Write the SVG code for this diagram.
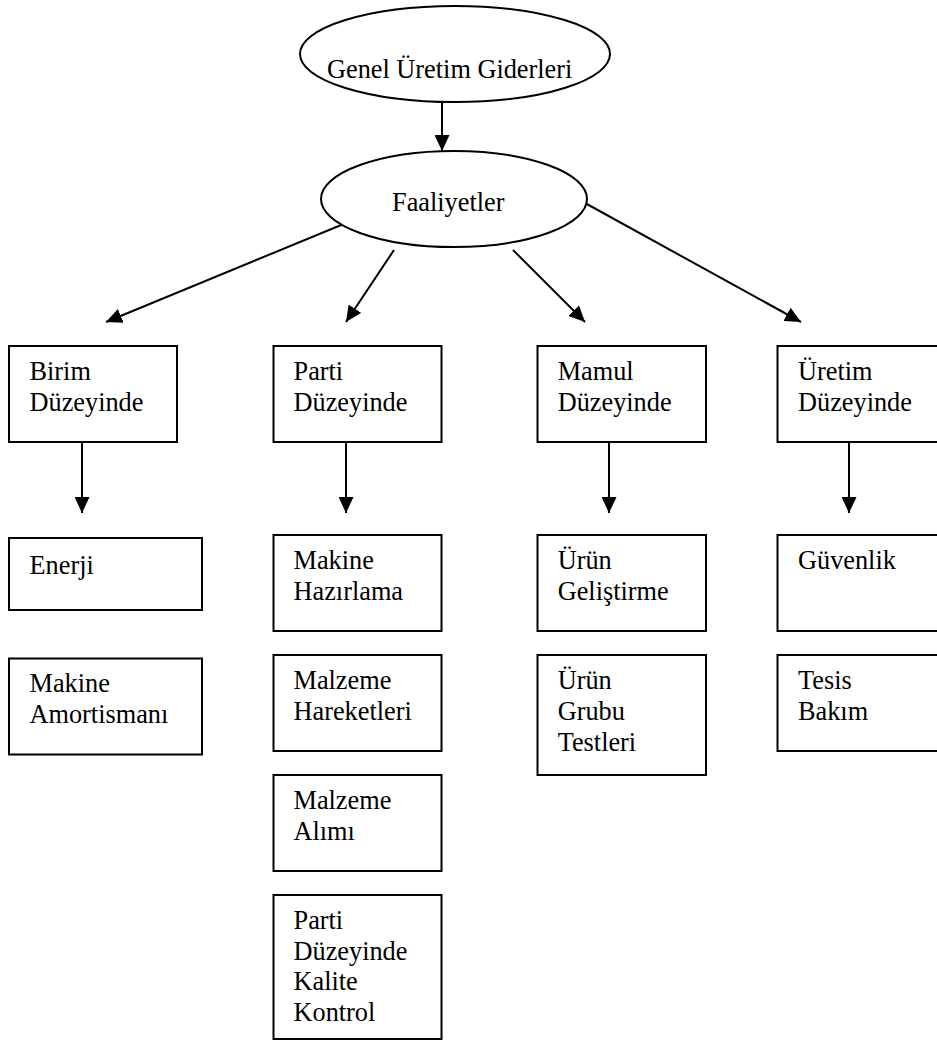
<svg xmlns="http://www.w3.org/2000/svg" width="937" height="1041" viewBox="0 0 937 1041">
  <style>
    .box { fill: #ffffff; stroke: #000000; stroke-width: 2; }
    .oval { fill: #ffffff; stroke: #000000; stroke-width: 2; }
    .lbl { font-family: "Liberation Serif", "Times New Roman", serif; font-size: 26.3px; fill: #000000; }
    .edge { stroke: #000000; stroke-width: 2; fill: none; marker-end: url(#head); }
  </style>
  <defs>
    <marker id="head" viewBox="0 0 16 15" refX="16" refY="7.5" markerWidth="16" markerHeight="15" markerUnits="userSpaceOnUse" orient="auto">
      <path d="M0,0 L16,7.5 L0,15 z" fill="#000000"/>
    </marker>
  </defs>
  <rect width="937" height="1041" fill="#ffffff"/>

  <g id="connectors">
    <line class="edge" x1="442" y1="102" x2="442" y2="151"/>
    <line class="edge" x1="346" y1="223" x2="106" y2="322"/>
    <line class="edge" x1="394" y1="250" x2="346" y2="322"/>
    <line class="edge" x1="513" y1="250" x2="585" y2="322"/>
    <line class="edge" x1="585" y1="203" x2="801" y2="322"/>
    <line class="edge" x1="82" y1="442" x2="82" y2="513"/>
    <line class="edge" x1="346" y1="442" x2="346" y2="513"/>
    <line class="edge" x1="609" y1="442" x2="609" y2="513"/>
    <line class="edge" x1="849" y1="442" x2="849" y2="513"/>
  </g>

  <g id="genel-uretim-giderleri">
    <ellipse class="oval" cx="455" cy="54" rx="155" ry="48"/>
    <text class="lbl" x="327" y="78">Genel Üretim Giderleri</text>
  </g>
  <g id="faaliyetler">
    <ellipse class="oval" cx="454" cy="199" rx="133" ry="48"/>
    <text class="lbl" x="392" y="211">Faaliyetler</text>
  </g>

  <!-- level nodes -->
  <g id="birim-duzeyinde">
    <rect class="box" x="9" y="346" width="168" height="96"/>
    <text class="lbl" x="29.5" y="380">Birim</text>
    <text class="lbl" x="29.5" y="410.5">Düzeyinde</text>
  </g>
  <g id="parti-duzeyinde">
    <rect class="box" x="273.5" y="346" width="168" height="96"/>
    <text class="lbl" x="293.5" y="380">Parti</text>
    <text class="lbl" x="293.5" y="410.5">Düzeyinde</text>
  </g>
  <g id="mamul-duzeyinde">
    <rect class="box" x="537.5" y="346" width="168.5" height="96"/>
    <text class="lbl" x="557.7" y="380">Mamul</text>
    <text class="lbl" x="557.7" y="410.5">Düzeyinde</text>
  </g>
  <g id="uretim-duzeyinde">
    <rect class="box" x="777.5" y="346" width="170" height="96"/>
    <text class="lbl" x="798" y="380">Üretim</text>
    <text class="lbl" x="798" y="410.5">Düzeyinde</text>
  </g>

  <!-- unit-level activities -->
  <g id="enerji">
    <rect class="box" x="9" y="538" width="193" height="72"/>
    <text class="lbl" x="29.5" y="574">Enerji</text>
  </g>
  <g id="makine-amortismani">
    <rect class="box" x="9" y="658.5" width="193" height="96"/>
    <text class="lbl" x="29.5" y="691.7">Makine</text>
    <text class="lbl" x="29.5" y="722.5">Amortismanı</text>
  </g>

  <!-- batch-level activities -->
  <g id="makine-hazirlama">
    <rect class="box" x="273.5" y="535" width="168" height="96"/>
    <text class="lbl" x="293.5" y="569">Makine</text>
    <text class="lbl" x="293.5" y="599.5">Hazırlama</text>
  </g>
  <g id="malzeme-hareketleri">
    <rect class="box" x="273.5" y="655" width="168" height="96"/>
    <text class="lbl" x="293.5" y="689.3">Malzeme</text>
    <text class="lbl" x="293.5" y="720">Hareketleri</text>
  </g>
  <g id="malzeme-alimi">
    <rect class="box" x="273.5" y="775" width="168" height="96"/>
    <text class="lbl" x="293.5" y="809">Malzeme</text>
    <text class="lbl" x="293.5" y="840">Alımı</text>
  </g>
  <g id="parti-kalite-kontrol">
    <rect class="box" x="273.5" y="895" width="168" height="144"/>
    <text class="lbl" x="293.5" y="929.3">Parti</text>
    <text class="lbl" x="293.5" y="959.5">Düzeyinde</text>
    <text class="lbl" x="293.5" y="990">Kalite</text>
    <text class="lbl" x="293.5" y="1020.5">Kontrol</text>
  </g>

  <!-- product-level activities -->
  <g id="urun-gelistirme">
    <rect class="box" x="537.5" y="535" width="168.5" height="96"/>
    <text class="lbl" x="557.7" y="569">Ürün</text>
    <text class="lbl" x="557.7" y="599.5">Geliştirme</text>
  </g>
  <g id="urun-grubu-testleri">
    <rect class="box" x="537.5" y="655" width="168.5" height="120"/>
    <text class="lbl" x="557.7" y="689.3">Ürün</text>
    <text class="lbl" x="557.7" y="719.5">Grubu</text>
    <text class="lbl" x="557.7" y="750.5">Testleri</text>
  </g>

  <!-- facility-level activities -->
  <g id="guvenlik">
    <rect class="box" x="777.5" y="535" width="170" height="96"/>
    <text class="lbl" x="798" y="569">Güvenlik</text>
  </g>
  <g id="tesis-bakim">
    <rect class="box" x="777.5" y="655" width="170" height="96"/>
    <text class="lbl" x="798" y="689.3">Tesis</text>
    <text class="lbl" x="798" y="720">Bakım</text>
  </g>
</svg>
